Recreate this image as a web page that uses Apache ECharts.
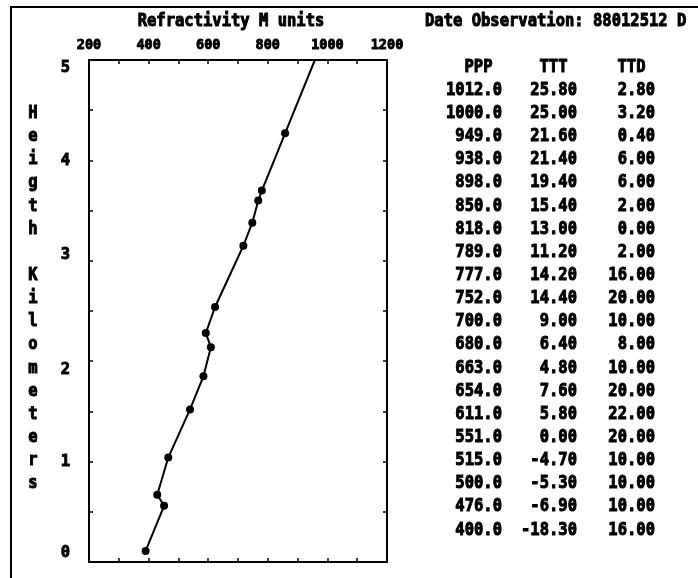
<!DOCTYPE html>
<html>
<head>
<meta charset="utf-8">
<title>Refractivity profile</title>
<script src="https://cdn.jsdelivr.net/npm/echarts@6/dist/echarts.min.js"></script>
<style>
  html, body { margin: 0; padding: 0; background: #fff; }
  #chart { width: 698px; height: 578px; }
</style>
</head>
<body>
<div id="chart"></div>
<script>
// profile points, bottom to top (M units, km)
const refractivity = [390, 452, 429, 466, 539, 584, 609, 592, 623, 718, 748, 768, 780, 858, 958];
const heightKm = [0.11, 0.56, 0.67, 1.04, 1.52, 1.85, 2.14, 2.28, 2.54, 3.15, 3.38, 3.60, 3.70, 4.27, 5.00];

// sounding table
const pressure = [1012.0, 1000.0, 949.0, 938.0, 898.0, 850.0, 818.0, 789.0, 777.0, 752.0,
  700.0, 680.0, 663.0, 654.0, 611.0, 551.0, 515.0, 500.0, 476.0, 400.0];
const temperature = [25.80, 25.00, 21.60, 21.40, 19.40, 15.40, 13.00, 11.20, 14.20, 14.40,
  9.00, 6.40, 4.80, 7.60, 5.80, 0.00, -4.70, -5.30, -6.90, -18.30];
const dewDepression = [2.80, 3.20, 0.40, 6.00, 6.00, 2.00, 0.00, 2.00, 16.00, 20.00,
  10.00, 8.00, 10.00, 20.00, 22.00, 20.00, 10.00, 10.00, 10.00, 16.00];

const tableHeaders = ["PPP", "TTT", "TTD"];
const yTitle = "Heigth Kilometers";
const xTitle = "Refractivity M units";
const dateText = "Date Observation: 88012512 D";

const FONT = '"DejaVu Sans Mono", monospace';
const INK = "#000";
// the old screen puts text on a fixed row grid
const ROW0 = 67, ROW_H = 23.15;
const rowY = r => ROW0 + ROW_H * r;

const chart = echarts.init(document.getElementById("chart"));

// heavy "screen font" look: graphic text strokes with stroke/lineWidth,
// axis labels with textBorder*
const heavyG = { fontFamily: FONT, fontWeight: "bold", stroke: INK, lineWidth: 0.9 };
const heavyL = { fontFamily: FONT, fontWeight: "bold", textBorderColor: INK, textBorderWidth: 0.9 };

// screen glyphs are a bit taller than DejaVu's
function txt(text, x, y, align, size) {
  return {
    type: "text",
    x: x, y: y, scaleY: 1.15,
    style: Object.assign({
      text: text, fill: INK, align: align, verticalAlign: "middle", fontSize: size || 15.5
    }, heavyG)
  };
}

const colRight = [502, 577, 655];
const graphics = [];
graphics.push({
  type: "polyline",
  shape: { points: [[11, 578], [11, 7], [698, 7]] },
  style: { stroke: INK, lineWidth: 2, fill: null }
});
graphics.push(txt(xTitle, 231, 21, "center"));
graphics.push(txt(dateText, 425, 21, "left"));
tableHeaders.forEach((h, i) => graphics.push(txt(h, colRight[i] - 9.5, rowY(0), "right")));
pressure.forEach((p, i) => {
  graphics.push(txt(p.toFixed(1), colRight[0], rowY(i + 1), "right"));
  graphics.push(txt(temperature[i].toFixed(2), colRight[1], rowY(i + 1), "right"));
  graphics.push(txt(dewDepression[i].toFixed(2), colRight[2], rowY(i + 1), "right"));
});
// vertical axis title, one letter per row starting on row 2
yTitle.split("").forEach((c, i) => {
  if (c !== " ") graphics.push(txt(c, 33, rowY(2 + i), "center"));
});

// nudge y labels onto the text rows, like the original
const labelShift = { 0: -9, 1: 0, 2: 9, 3: -6, 4: 1, 5: 8 };
const rich = {};
Object.keys(labelShift).forEach(k => {
  const s = labelShift[k];
  rich["r" + k] = { padding: s >= 0 ? [2 * s, 0, 0, 0] : [0, 0, -2 * s, 0] };
});

const axisLine = () => ({ show: true, onZero: false, lineStyle: { color: INK, width: 2 } });
const tick = () => ({ show: true, inside: true, length: 4, lineStyle: { color: INK, width: 1.5 } });

const option = {
  backgroundColor: "#fff",
  animation: false,
  grid: { left: 89, top: 60, right: 311, bottom: 16, containLabel: false },
  xAxis: [
    {
      type: "value", position: "top", min: 200, max: 1200, interval: 100,
      axisLine: axisLine(), axisTick: tick(), splitLine: { show: false },
      axisLabel: Object.assign({
        show: true, margin: 8, color: INK, fontSize: 13.5,
        showMinLabel: true, showMaxLabel: true,
        formatter: v => (v % 200 === 0 ? String(v) : "")
      }, heavyL)
    },
    {
      type: "value", position: "bottom", min: 200, max: 1200, interval: 100,
      axisLine: axisLine(), axisTick: tick(), splitLine: { show: false },
      axisLabel: { show: false }
    }
  ],
  yAxis: [
    {
      type: "value", position: "left", min: 0, max: 5, interval: 0.5,
      axisLine: axisLine(), axisTick: tick(), splitLine: { show: false },
      axisLabel: Object.assign({
        show: true, margin: 19, color: INK, fontSize: 15.5,
        showMinLabel: true, showMaxLabel: true,
        formatter: v => (Number.isInteger(v) ? "{r" + v + "|" + v + "}" : ""),
        rich: rich
      }, heavyL)
    },
    {
      type: "value", position: "right", min: 0, max: 5, interval: 0.5,
      axisLine: axisLine(), axisTick: tick(), splitLine: { show: false },
      axisLabel: { show: false }
    }
  ],
  series: [
    {
      type: "line",
      xAxisIndex: 0, yAxisIndex: 0,
      data: refractivity.map((m, i) => {
        const item = { value: [m, heightKm[i]] };
        if (i === refractivity.length - 1) item.symbol = "none";
        return item;
      }),
      symbol: "circle", symbolSize: 8,
      itemStyle: { color: INK },
      lineStyle: { color: INK, width: 2 },
      clip: true
    }
  ],
  graphic: graphics
};

chart.setOption(option);
</script>
</body>
</html>
